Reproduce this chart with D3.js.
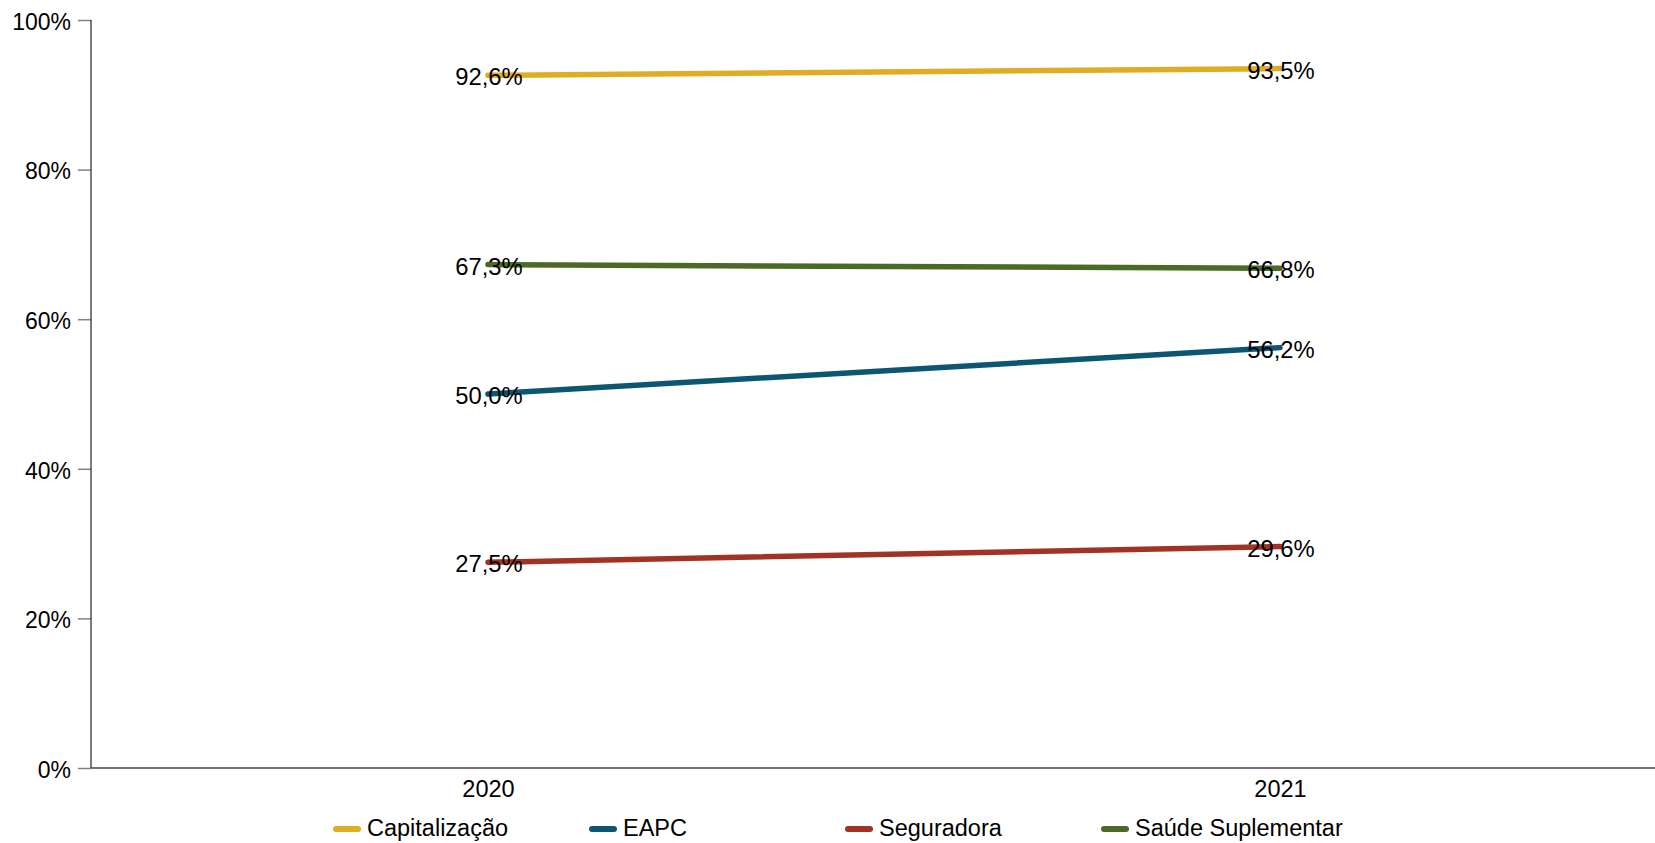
<!DOCTYPE html>
<html>
<head>
<meta charset="utf-8">
<script src="https://cdn.jsdelivr.net/npm/d3@7/dist/d3.min.js"></script>
<style>
  html, body { margin: 0; padding: 0; background: #fff; }
  svg text { font-family: "Liberation Sans", Arial, sans-serif; fill: #000; }
</style>
</head>
<body>
<svg id="chart" width="1655" height="843"></svg>
<script>
const years = ["2020", "2021"];
const seriesNames = ["Capitalização", "EAPC", "Seguradora", "Saúde Suplementar"];
const capitalizacao = [92.6, 93.5];
const eapc = [50.0, 56.2];
const seguradora = [27.5, 29.6];
const saude = [67.3, 66.8];
const yTicks = [0, 20, 40, 60, 80, 100];
const colors = ["#E1AC22", "#0C5573", "#A23224", "#4A6A26"];

const seriesValues = [capitalizacao, eapc, seguradora, saude];
const series = seriesNames.map((name, i) => ({
  name, color: colors[i],
  values: years.map((y, j) => ({ year: y, value: seriesValues[i][j] }))
}));

const svg = d3.select("#chart");
const mLeft = 91, mRight = 1655, mTop = 20, mBottom = 768;

const x = d3.scalePoint().domain(years).range([488, 1280]);
const y = d3.scaleLinear().domain([0, 100]).range([mBottom, mTop]);

// Y axis
const yAxis = d3.axisLeft(y).tickValues(yTicks).tickFormat(d => d + "%").tickSize(13).tickPadding(7);
const gy = svg.append("g").attr("transform", `translate(${mLeft},0)`).call(yAxis);
gy.select(".domain").remove();
gy.selectAll(".tick line").attr("stroke", "#808080").attr("stroke-width", 1.5);
gy.selectAll(".tick text").attr("font-size", 23).attr("dy", "0.4em").style("font-family", "'Liberation Sans', Arial, sans-serif");
svg.append("line").attr("x1", mLeft).attr("x2", mLeft).attr("y1", mTop).attr("y2", mBottom)
  .attr("stroke", "#333").attr("stroke-width", 1.3);

// X axis
const xAxis = d3.axisBottom(x).tickSize(0).tickPadding(12);
const gx = svg.append("g").attr("transform", `translate(0,${mBottom})`).call(xAxis);
gx.select(".domain").remove();
gx.selectAll(".tick text").attr("font-size", 23.5).attr("dy", "0.71em").style("font-family", "'Liberation Sans', Arial, sans-serif");
svg.append("line").attr("x1", mLeft).attr("x2", mRight).attr("y1", mBottom).attr("y2", mBottom)
  .attr("stroke", "#444").attr("stroke-width", 1.5);

// Lines
const line = d3.line().x(d => x(d.year)).y(d => y(d.value));
svg.append("g").selectAll("path").data(series).join("path")
  .attr("d", d => line(d.values))
  .attr("fill", "none")
  .attr("stroke", d => d.color)
  .attr("stroke-width", 5.5)
  .attr("stroke-linecap", "round");

// Labels
const fmt = v => v.toFixed(1).replace(".", ",") + "%";
const lbl = svg.append("g");
series.forEach(s => {
  lbl.selectAll(null).data(s.values).join("text")
    .attr("x", d => x(d.year) + 1)
    .attr("y", d => y(d.value))
    .attr("dy", "0.42em")
    .attr("text-anchor", "middle")
    .attr("font-size", 23.8)
    .text(d => fmt(d.value));
});

// Legend
const legendX = [334, 590, 846, 1102];
const legendY = 828;
const lg = svg.append("g").selectAll("g").data(series).join("g")
  .attr("transform", (d, i) => `translate(${legendX[i]},${legendY})`);
lg.append("line").attr("x1", 2).attr("x2", 24).attr("y1", 1).attr("y2", 1)
  .attr("stroke", d => d.color).attr("stroke-width", 6).attr("stroke-linecap", "round");
lg.append("text").attr("x", 33).attr("y", 0).attr("dy", "0.33em")
  .attr("font-size", 23.5).text(d => d.name);
</script>
</body>
</html>
